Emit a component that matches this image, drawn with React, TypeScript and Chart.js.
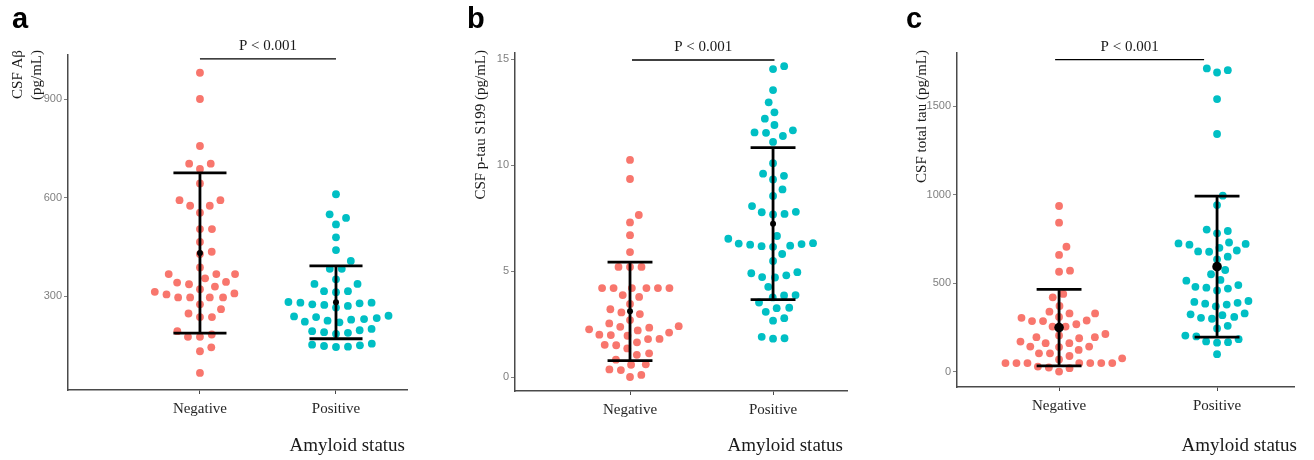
import React, { useEffect, useRef } from "react";
import { Chart, registerables } from "chart.js";

Chart.register(...registerables);

// ---------------- data ----------------
const categories = ["Negative", "Positive"];
const xAxisTitle = "Amyloid status";
const pValueLabel = "P < 0.001";
const groupColors = ["#F8766D", "#00BFC4"];

// Panel a: CSF Aβ (pg/mL)
const abetaNegative = [980, 900, 757, 703, 703, 687, 643, 592, 592, 575, 575, 554, 504, 504, 465, 435, 428, 387, 367, 367, 367, 354, 343, 341, 336, 329, 321, 313, 305, 308, 296, 296, 296, 296, 275, 260, 247, 236, 236, 193, 183, 176, 176, 144, 132, 66];
const abetaPositive = [610, 549, 538, 518, 479, 440, 407, 383, 383, 351, 337, 337, 315, 315, 312, 282, 280, 280, 278, 275, 273, 270, 265, 240, 238, 236, 233, 230, 228, 225, 222, 220, 200, 196, 193, 190, 188, 185, 155, 152, 150, 148, 146, 145];
const abetaMean = [431, 281];
const abetaSD = [244, 111];
const abetaTicks = [300, 600, 900];
const abetaTitle = ["CSF Aβ", "(pg/mL)"];

// Panel b: CSF p-tau S199 (pg/mL)
const ptauNegative = [10.25, 9.35, 7.65, 7.3, 6.7, 5.9, 5.2, 5.2, 5.2, 4.2, 4.2, 4.2, 4.2, 4.2, 4.2, 3.87, 3.78, 3.45, 3.2, 3.05, 2.97, 2.69, 2.53, 2.4, 2.37, 2.33, 2.25, 2.2, 2.1, 2.0, 1.98, 1.95, 1.8, 1.79, 1.64, 1.52, 1.5, 1.35, 1.12, 1.05, 0.82, 0.6, 0.58, 0.36, 0.33, 0.1, 0.0];
const ptauPositive = [14.68, 14.54, 13.55, 12.97, 12.5, 12.2, 11.9, 11.65, 11.55, 11.53, 11.38, 11.1, 10.1, 9.6, 9.5, 9.33, 8.86, 8.55, 8.07, 7.8, 7.78, 7.7, 7.68, 6.66, 6.53, 6.32, 6.3, 6.28, 6.25, 6.2, 6.18, 6.15, 5.81, 5.48, 4.95, 4.9, 4.8, 4.72, 4.7, 4.26, 3.87, 3.85, 3.76, 3.52, 3.27, 3.25, 3.08, 2.78, 2.66, 1.9, 1.83, 1.81];
const ptauMean = [3.1, 7.24];
const ptauSD = [2.33, 3.59];
const ptauTicks = [0, 5, 10, 15];
const ptauTitle = ["CSF p-tau S199 (pg/mL)"];

// Panel c: CSF total tau (pg/mL)
const ttauNegative = [936, 842, 706, 660, 571, 565, 440, 421, 372, 340, 330, 330, 310, 305, 290, 287, 287, 269, 256, 256, 214, 206, 196, 196, 190, 171, 162, 162, 143, 143, 140, 124, 105, 105, 90, 77, 70, 50, 50, 50, 50, 50, 50, 50, 30, 25, 21, 2];
const ttauPositive = [1712, 1702, 1689, 1539, 1342, 994, 941, 803, 795, 782, 730, 725, 722, 718, 700, 685, 680, 678, 650, 635, 575, 551, 519, 515, 490, 480, 475, 470, 460, 400, 395, 390, 385, 380, 370, 330, 325, 320, 310, 305, 300, 260, 245, 205, 200, 185, 172, 168, 165, 100];
const ttauMean = [250, 594];
const ttauSD = [216, 398];
const ttauTicks = [0, 500, 1000, 1500];
const ttauTitle = ["CSF total tau (pg/mL)"];

// ---------------- panel layout ----------------
const H = 460;
const panels = [
  {
    letter: "a", yTitle: abetaTitle, neg: abetaNegative, pos: abetaPositive, mean: abetaMean, sd: abetaSD, ticks: abetaTicks,
    yMin: 14, yMax: 1034, xMin: 0.03, xMax: 2.522, bracket: { x0: 1, x1: 2, y: 1022 },
    capHalf: 0.195, meanRadius: 3, spacing: 12,
    left: 0, width: 440, area: { left: 68, right: 407, top: 55, bottom: 390 },
    titleX: [18, 37], letterX: 12, xTitleDx: -2,
  },
  {
    letter: "b", yTitle: ptauTitle, neg: ptauNegative, pos: ptauPositive, mean: ptauMean, sd: ptauSD, ticks: ptauTicks,
    yMin: -0.66, yMax: 15.3, xMin: 0.196, xMax: 2.517, bracket: { x0: 1.014, x1: 2.01, y: 14.97 },
    capHalf: 0.157, meanRadius: 3, spacing: 11.5,
    left: 440, width: 440, area: { left: 75, right: 407, top: 53, bottom: 391 },
    titleX: [41], letterX: 27, xTitleDx: -4,
  },
  {
    letter: "c", yTitle: ttauTitle, neg: ttauNegative, pos: ttauPositive, mean: ttauMean, sd: ttauSD, ticks: ttauTicks,
    yMin: -85, yMax: 1799, xMin: 0.354, xMax: 2.487, bracket: { x0: 0.975, x1: 1.918, y: 1762 },
    capHalf: 0.142, meanRadius: 4.8, spacing: 11,
    left: 880, width: 434, area: { left: 77, right: 414, top: 53, bottom: 387 },
    titleX: [42], letterX: 26, xTitleDx: 3,
  },
];

// ---------------- plugins ----------------
const swarmPlugin = {
  id: "swarm",
  afterDatasetsUpdate(chart: any) {
    chart.data.datasets.forEach((ds: any, i: number) => {
      if (!ds.swarm) return;
      const meta = chart.getDatasetMeta(i);
      const cx = chart.scales.x.getPixelForValue(ds.swarm.center);
      const d = ds.swarm.spacing;
      const pts = meta.data.map((el: any) => ({ el, y: el.y, x: 0 }));
      const order = pts.slice().sort((a: any, b: any) => b.y - a.y);
      const placed: any[] = [];
      for (const p of order) {
        const cands = [0];
        for (const q of placed) {
          const dy = Math.abs(q.y - p.y);
          if (dy < d) {
            const dx = Math.sqrt(d * d - dy * dy);
            cands.push(q.x + dx, q.x - dx);
          }
        }
        cands.sort((a, b) => Math.abs(a) - Math.abs(b));
        let best = 0;
        for (const c of cands) {
          if (placed.every((q) => (q.x - c) ** 2 + (q.y - p.y) ** 2 >= d * d - 0.01)) {
            best = c;
            break;
          }
        }
        p.x = best;
        placed.push(p);
        p.el.x = cx + best;
      }
    });
  },
};

const textPlugin = {
  id: "panelText",
  afterDraw(chart: any, _args: any, opts: any) {
    const ctx = chart.ctx;
    const area = chart.chartArea;
    const xs = chart.scales.x;
    const ys = chart.scales.y;
    ctx.save();
    // panel letter
    ctx.font = 'bold 29px "Liberation Sans", Arial, sans-serif';
    ctx.fillStyle = "#000";
    ctx.textAlign = "left";
    ctx.textBaseline = "alphabetic";
    ctx.fillText(opts.letter, opts.letterX, 28);
    // y title
    ctx.font = '15px "Liberation Serif", "Times New Roman", serif';
    ctx.fillStyle = "#1a1a1a";
    opts.yTitle.forEach((line: string, k: number) => {
      ctx.save();
      ctx.translate(opts.titleX[k], 50);
      ctx.rotate(-Math.PI / 2);
      ctx.textAlign = "right";
      ctx.textBaseline = "middle";
      ctx.fillText(line, 0, 0);
      ctx.restore();
    });
    // x title
    ctx.font = '19px "Liberation Serif", "Times New Roman", serif';
    ctx.textAlign = "right";
    ctx.textBaseline = "alphabetic";
    ctx.fillText(xAxisTitle, area.right + opts.xTitleDx, 451);
    // p-value label
    const bx = (xs.getPixelForValue(opts.bracket.x0) + xs.getPixelForValue(opts.bracket.x1)) / 2;
    const by = ys.getPixelForValue(opts.bracket.y);
    ctx.font = '15px "Liberation Serif", "Times New Roman", serif';
    ctx.textAlign = "center";
    ctx.fillText(pValueLabel, bx, by - 9);
    ctx.restore();
  },
};

function buildConfig(p: any) {
  const datasets: any[] = [];
  [p.neg, p.pos].forEach((vals: number[], gi: number) => {
    datasets.push({
      data: vals.map((v) => ({ x: gi + 1, y: v })),
      backgroundColor: groupColors[gi],
      borderWidth: 0,
      pointRadius: 3.9,
      pointHoverRadius: 3.9,
      order: 3,
      swarm: { center: gi + 1, spacing: p.spacing },
    });
  });
  p.mean.forEach((m: number, gi: number) => {
    const x = gi + 1;
    const lo = m - p.sd[gi];
    const hi = m + p.sd[gi];
    const seg = (pts: any[]) =>
      datasets.push({ data: pts, showLine: true, borderColor: "#000", borderWidth: 2.8, pointRadius: 0, order: 2 });
    seg([{ x, y: lo }, { x, y: hi }]);
    seg([{ x: x - p.capHalf, y: hi }, { x: x + p.capHalf, y: hi }]);
    seg([{ x: x - p.capHalf, y: lo }, { x: x + p.capHalf, y: lo }]);
    datasets.push({ data: [{ x, y: m }], pointRadius: p.meanRadius, backgroundColor: "#000", borderWidth: 0, order: 1 });
  });
  datasets.push({
    data: [{ x: p.bracket.x0, y: p.bracket.y }, { x: p.bracket.x1, y: p.bracket.y }],
    showLine: true, borderColor: "#000", borderWidth: 1.3, pointRadius: 0, order: 1,
  });

  const axisColor = "#4a4a4a";
  return {
    type: "scatter",
    data: { datasets },
    plugins: [swarmPlugin, textPlugin],
    options: {
      responsive: false,
      animation: false,
      events: [],
      layout: { padding: { top: p.area.top, right: p.width - p.area.right, bottom: 0, left: 0 } },
      plugins: {
        legend: { display: false },
        tooltip: { enabled: false },
        panelText: {
          letter: p.letter, letterX: p.letterX, yTitle: p.yTitle, titleX: p.titleX,
          xTitleDx: p.xTitleDx, bracket: p.bracket,
        },
      },
      scales: {
        x: {
          type: "linear",
          min: p.xMin,
          max: p.xMax,
          afterBuildTicks: (s: any) => { s.ticks = categories.map((_c, i) => ({ value: i + 1 })); },
          afterFit: (s: any) => { s.height = H - p.area.bottom; },
          ticks: {
            callback: (_v: any, i: number) => categories[i],
            font: { family: '"Liberation Serif", "Times New Roman", serif', size: 15 },
            color: "#262626",
            padding: 6,
            maxRotation: 0,
            autoSkip: false,
          },
          grid: { display: true, drawOnChartArea: false, drawTicks: true, tickLength: 4, color: axisColor, lineWidth: 1 },
          border: { display: true, color: axisColor, width: 1.5 },
        },
        y: {
          type: "linear",
          min: p.yMin,
          max: p.yMax,
          afterBuildTicks: (s: any) => { s.ticks = p.ticks.map((v: number) => ({ value: v })); },
          afterFit: (s: any) => { s.width = p.area.left; },
          ticks: {
            callback: (v: any) => String(v),
            font: { family: '"Liberation Sans", Arial, sans-serif', size: 11 },
            color: "#808080",
            padding: 2,
          },
          grid: { display: true, drawOnChartArea: false, drawTicks: true, tickLength: 4, color: "#808080", lineWidth: 1 },
          border: { display: true, color: axisColor, width: 1.5 },
        },
      },
    },
  };
}

function Panel({ p }: { p: any }) {
  const ref = useRef<HTMLCanvasElement | null>(null);
  useEffect(() => {
    if (!ref.current) return;
    const chart = new Chart(ref.current, buildConfig(p) as any);
    return () => chart.destroy();
  }, [p]);
  return (
    <canvas
      ref={ref}
      width={p.width}
      height={H}
      style={{ position: "absolute", left: p.left, top: 0, width: p.width, height: H }}
    />
  );
}

export default function App() {
  return (
    <div style={{ position: "absolute", left: 0, top: 0, width: 1314, height: H, background: "#fff" }}>
      {panels.map((p) => (
        <Panel key={p.letter} p={p} />
      ))}
    </div>
  );
}
